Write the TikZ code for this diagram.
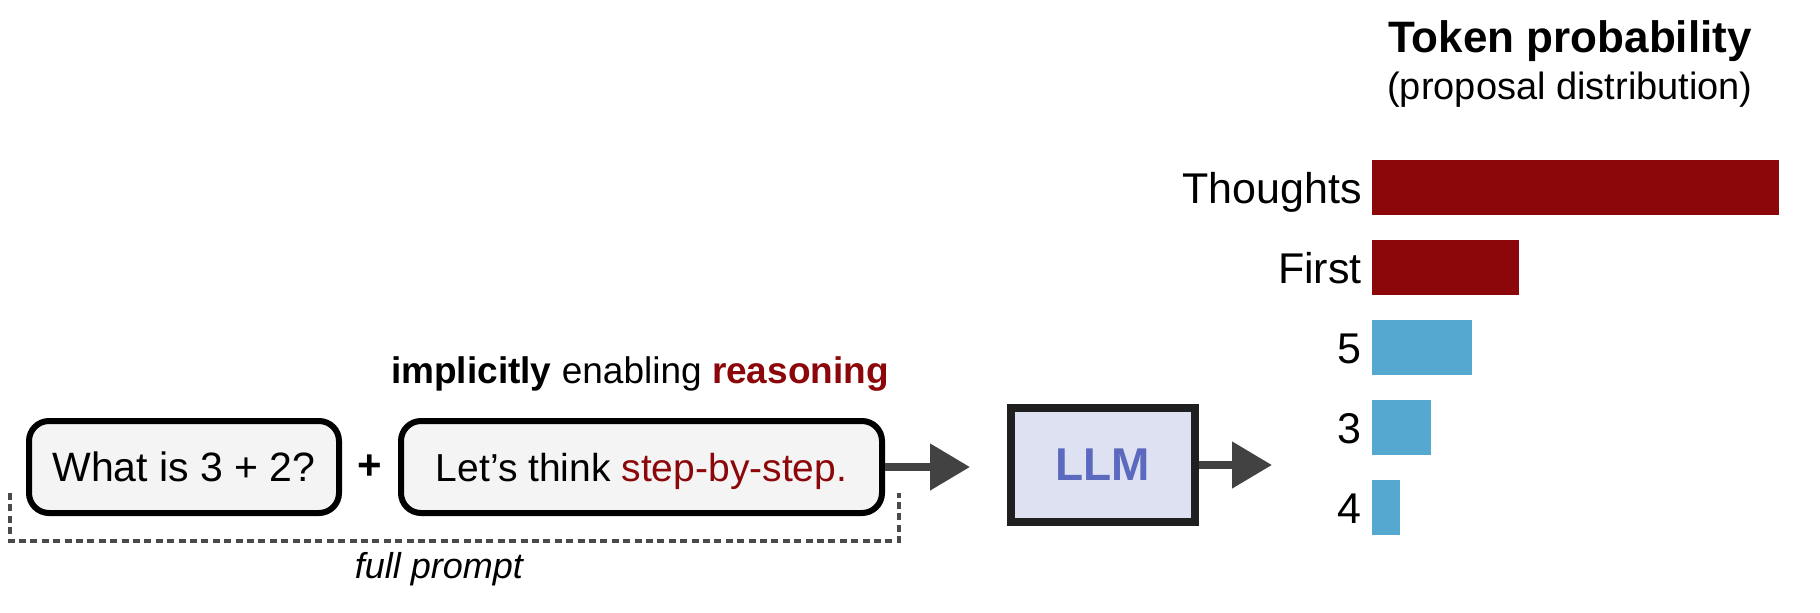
\documentclass[tikz,border=0pt]{standalone}
\usepackage{fontspec}
\setmainfont{Liberation Sans}
\usepackage{xcolor}
\usepackage{tikz}
\usetikzlibrary{arrows.meta, positioning}

\definecolor{tokred}{RGB}{140,7,9}
\definecolor{tokblue}{RGB}{85,168,207}
\definecolor{llmfill}{RGB}{222,225,241}
\definecolor{llmtext}{RGB}{91,106,191}
\definecolor{promptfill}{RGB}{244,244,244}
\definecolor{arrgray}{RGB}{66,66,66}
\definecolor{dashgray}{RGB}{74,74,74}

\newcommand{\fsz}[1]{\fontsize{#1}{#1}\selectfont}

\begin{document}
\begin{tikzpicture}[
    x=0.5pt, y=-0.5pt,
    every node/.style={font=\fsz{20.5pt}, inner sep=0pt},
    prompt/.style={draw, line width=3pt, rounded corners=10pt, fill=promptfill,
                   minimum height=46pt, text depth=0pt},
    llm/.style={draw=black!88, line width=4pt, fill=llmfill, text=llmtext,
                font=\fsz{23pt}\bfseries, text depth=0pt},
    arr/.style={-{Triangle[length=20pt, width=22.5pt]}, line width=4pt, draw=arrgray},
    bracket/.style={draw=dashgray, line width=1.8pt, dash pattern=on 3.5pt off 2.2pt},
    toklabel/.style={anchor=base east, font=\fsz{21.5pt}},
  ]
  \useasboundingbox (0,0) rectangle (1820,612);

  % Prompt
  \node[prompt, minimum width=155pt] (question) at (184,467) {What is 3 + 2?};
  \node[font=\fsz{21pt}\bfseries] (plus) at (370,467) {+};
  \node[prompt, minimum width=240.5pt, font=\fsz{19.5pt}] (cot) at (641.5,467)
    {Let’s think \textcolor{tokred}{step-by-step.}};
  \node[anchor=base, font=\fsz{18.5pt}] (hint) at (640,383)
    {\textbf{implicitly} enabling \textbf{\textcolor{tokred}{reasoning}}};

  % full prompt bracket
  \coordinate (fp sw) at (10,541);
  \coordinate (fp ne) at (899,493);
  \draw[bracket] (fp sw |- fp ne) -- (fp sw) -| (fp ne);
  \node[anchor=base, font=\fsz{18pt}\itshape] (fp) at (439,578) {full prompt};

  % Model
  \node[llm, minimum width=92pt, minimum height=57pt] (llm) at (1103,465) {LLM};

  \coordinate (tip in) at (970,467);
  \coordinate (tip out) at (1272,465);
  \draw[arr] (cot.east) -- (tip in);
  \draw[arr] (llm.east) -- (tip out);

  % Proposal distribution
  \node[anchor=base, font=\fsz{22pt}\bfseries] (title) at (1570,52) {Token probability};
  \node[anchor=base, font=\fsz{19pt}] (subtitle) at (1570,99) {(proposal distribution)};

  \foreach \tok/\len/\col [count=\i] in {Thoughts/407/tokred, First/147/tokred,
      5/100/tokblue, 3/59/tokblue, 4/28/tokblue} {
    \node[toklabel] (tok\i) at (1362,123.5+80*\i) {\tok};
    \fill[\col] (1372,80+80*\i) rectangle ++(\len,55);
  }
\end{tikzpicture}
\end{document}
